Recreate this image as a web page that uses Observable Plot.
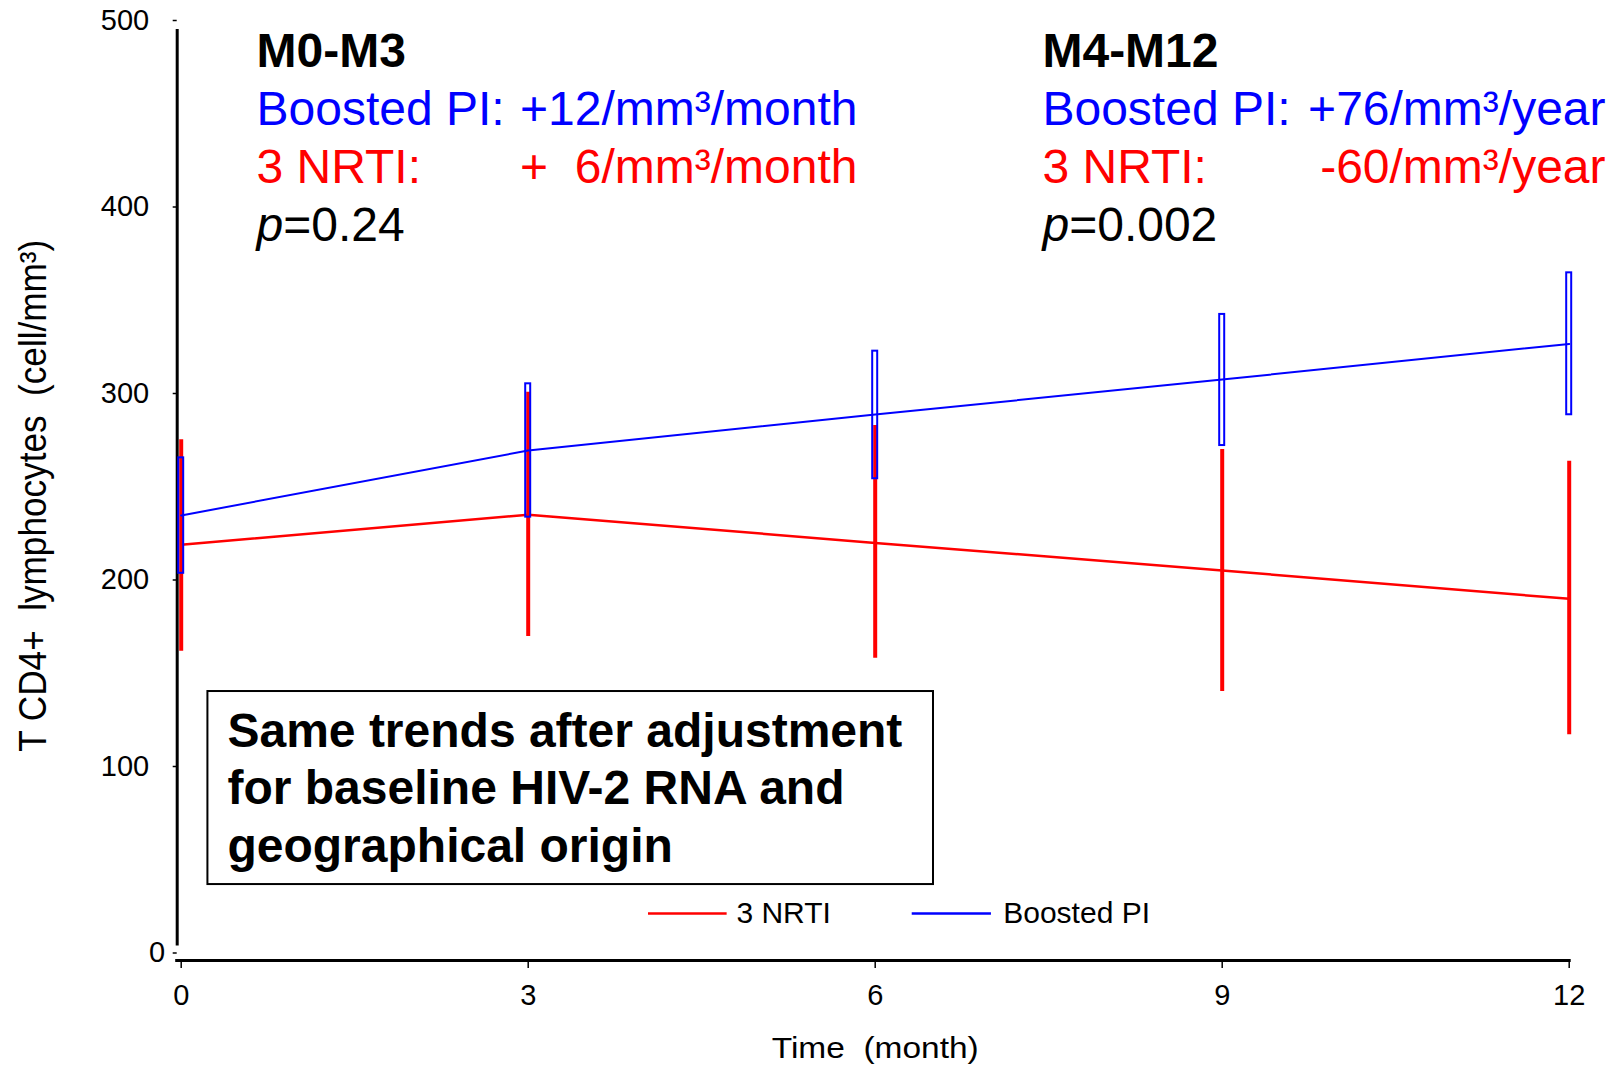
<!DOCTYPE html>
<html>
<head>
<meta charset="utf-8">
<script src="https://cdn.jsdelivr.net/npm/d3@7"></script>
<script src="https://cdn.jsdelivr.net/npm/@observablehq/plot@0.6"></script>
<style>
  html, body { margin: 0; padding: 0; background: #ffffff; }
  #chart svg text { white-space: pre; }
</style>
</head>
<body>
<div id="chart"></div>
<script>
// ---- data ----
const months = [0, 3, 6, 9, 12];
const piMean  = [234.6, 269.4, 288.7, 307.5, 326.6];
const piLow   = [203.6, 233.7, 254.3, 272.1, 288.6];
const piHigh  = [265.5, 305.2, 322.7, 342.4, 364.7];
const nrtiMean = [218.9, 235.0, 219.9, 205.1, 189.9];
const nrtiLow  = [161.8, 169.7, 158.1, 140.2, 117.0];
const nrtiHigh = [275.2, 300.7, 282.8, 270.0, 263.7];
const xTicks = [0, 3, 6, 9, 12];
const yTicks = [100, 200, 300, 400, 500];
const seriesNames = ["3 NRTI", "Boosted PI"];
const seriesColors = ["#ff0000", "#0000ff"];

// ---- annotation texts ----
const periodTitles = ["M0-M3", "M4-M12"];
const piLabel = "Boosted PI:";
const nrtiLabel = "3 NRTI:";
const piRates = ["+12/mm³/month", "+76/mm³/year"];
const nrtiRates = ["+  6/mm³/month", "-60/mm³/year"];
const pValues = ["=0.24", "=0.002"];
const boxText = "Same trends after adjustment\nfor baseline HIV-2 RNA and\ngeographical origin";
const xTitle = "Time  (month)";
const yTitle = "T CD4+  lymphocytes  (cell/mm³)";

// annotation anchors (in data units of the chart)
const blockLeft = [0.651, 7.446];
const blockRight = [5.847, 12.314];
const boxAnn = {x1: 0.231, x2: 6.504, y1: 36.7, y2: 140.2, tx: 0.40, ty: 132.6};
const legendY = 21.2;
const legendLineX1 = [4.04, 6.32];
const legendLineX2 = [4.72, 7.005];
const legendTextX = [4.80, 7.107];

// ---- tables ----
const nrti = months.map((m, i) => ({month: m, mean: nrtiMean[i], lo: nrtiLow[i], hi: nrtiHigh[i]}));
const pi = months.map((m, i) => ({month: m, mean: piMean[i], lo: piLow[i], hi: piHigh[i]}));
const blocks = periodTitles.map((t, i) => ({
  title: t, left: blockLeft[i], right: blockRight[i],
  piRate: piRates[i], nrtiRate: nrtiRates[i], p: pValues[i]
}));
const legend = seriesNames.map((n, i) => ({
  name: n, color: seriesColors[i], x1: legendLineX1[i], x2: legendLineX2[i], tx: legendTextX[i]
}));

const RED = seriesColors[0], BLUE = seriesColors[1];
const FONT = "'Liberation Sans', Arial, Helvetica, sans-serif";

const chart = Plot.plot({
  width: 1618,
  height: 1070,
  marginLeft: 180.7,
  marginRight: 49.3,
  marginTop: 20,
  marginBottom: 117.5,
  style: {fontFamily: FONT, background: "#ffffff", color: "#000000"},
  x: {domain: [0, 12]},
  y: {domain: [0, 500]},
  marks: [
    // axis lines
    Plot.ruleX([0], {dx: -4, y1: 0, y2: 500, insetTop: -7, insetBottom: -9, stroke: "#000", strokeWidth: 3}),
    Plot.ruleY([0], {dy: 7.5, x1: 0, x2: 12, insetLeft: -5.5, insetRight: -2, stroke: "#000", strokeWidth: 3}),
    // y axis
    Plot.axisY({ticks: yTicks, tickSize: 4, tickPadding: 24, dx: -4, fontSize: 29, strokeWidth: 1.5, tickFormat: d => String(d), label: null}),
    Plot.axisY({ticks: [0], tickSize: 4, tickPadding: 8, dx: -4, fontSize: 29, strokeWidth: 1.5, tickFormat: d => String(d), label: null}),
    // x axis
    Plot.axisX({ticks: xTicks, tickSize: 8, tickPadding: 16, dy: 7.5, fontSize: 29, strokeWidth: 1.5, tickFormat: d => String(d), label: null}),
    // axis titles
    Plot.text([xTitle], {frameAnchor: "bottom", textAnchor: "middle", dy: 105, lineAnchor: "bottom", fontSize: 30, fill: "#000"}),
    Plot.text([yTitle], {frameAnchor: "left", textAnchor: "middle", dx: -135.7, dy: 9, rotate: -90, lineAnchor: "bottom", fontSize: 39, fill: "#000"}),

    // 3 NRTI: CI bars and mean line
    Plot.ruleX(nrti, {x: "month", y1: "lo", y2: "hi", stroke: RED, strokeWidth: 4}),
    Plot.line(nrti, {x: "month", y: "mean", stroke: RED, strokeWidth: 2.5}),
    // Boosted PI: mean line and hollow CI boxes
    Plot.line(pi, {x: "month", y: "mean", stroke: BLUE, strokeWidth: 2}),
    Plot.rect(pi, {x1: "month", x2: "month", y1: "lo", y2: "hi", insetLeft: -2.5, insetRight: -2.5, fill: "none", stroke: BLUE, strokeWidth: 2}),

    // top annotations
    Plot.text(blocks, {x: "left", frameAnchor: "top", dy: 46.7, lineAnchor: "bottom", textAnchor: "start", text: "title", fontSize: 48, fontWeight: "bold", fill: "#000"}),
    Plot.text(blocks, {x: "left", frameAnchor: "top", dy: 104.5, lineAnchor: "bottom", textAnchor: "start", text: () => piLabel, fontSize: 48, fill: BLUE}),
    Plot.text(blocks, {x: "right", frameAnchor: "top", dy: 104.5, lineAnchor: "bottom", textAnchor: "end", text: "piRate", fontSize: 48, fill: BLUE}),
    Plot.text(blocks, {x: "left", frameAnchor: "top", dy: 162.3, lineAnchor: "bottom", textAnchor: "start", text: () => nrtiLabel, fontSize: 48, fill: RED}),
    Plot.text(blocks, {x: "right", frameAnchor: "top", dy: 162.3, lineAnchor: "bottom", textAnchor: "end", text: "nrtiRate", fontSize: 48, fill: RED}),
    Plot.text(blocks, {x: "left", frameAnchor: "top", dy: 220.1, lineAnchor: "bottom", textAnchor: "start", text: () => "p", fontStyle: "italic", fontSize: 48, fill: "#000"}),
    Plot.text(blocks, {x: "left", frameAnchor: "top", dx: 26.7, dy: 220.1, lineAnchor: "bottom", textAnchor: "start", text: "p", fontSize: 48, fill: "#000"}),

    // boxed note
    Plot.rect([boxAnn], {x1: "x1", x2: "x2", y1: "y1", y2: "y2", fill: "#ffffff", stroke: "#000", strokeWidth: 2}),
    Plot.text([boxAnn], {x: "tx", y: "ty", text: () => boxText, lineAnchor: "top", lineHeight: 1.2, textAnchor: "start", fontSize: 48, fontWeight: "bold", fill: "#000"}),

    // legend (inside the plot)
    Plot.ruleY(legend, {y: () => legendY, x1: "x1", x2: "x2", stroke: "color", strokeWidth: 2.5}),
    Plot.text(legend, {x: "tx", y: () => legendY, text: "name", textAnchor: "start", fontSize: 30, fill: "#000"})
  ]
});

document.getElementById("chart").appendChild(chart);

// stretch/condense the axis titles to the widths seen in the reference
for (const t of chart.querySelectorAll("text")) {
  if (t.textContent === xTitle) { t.setAttribute("textLength", 207); t.setAttribute("lengthAdjust", "spacingAndGlyphs"); }
  if (t.textContent === yTitle) { t.setAttribute("textLength", 512); t.setAttribute("lengthAdjust", "spacingAndGlyphs"); }
}
</script>
</body>
</html>
